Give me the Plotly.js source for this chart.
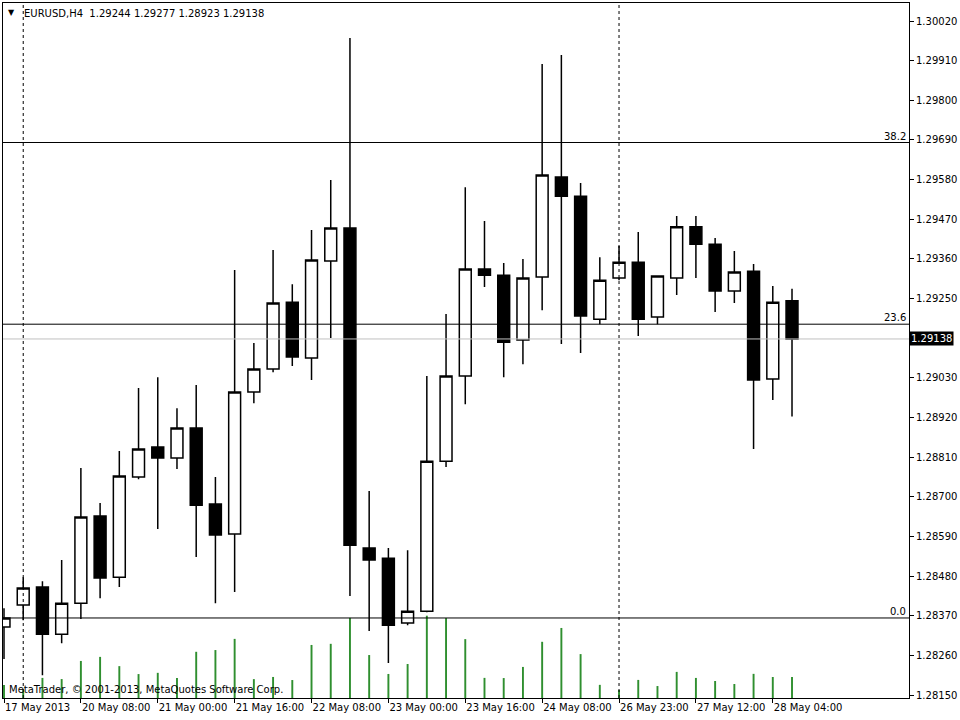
<!DOCTYPE html>
<html>
<head>
<meta charset="utf-8">
<script src="https://cdn.plot.ly/plotly-3.0.1.min.js"></script>
<style>
html,body{margin:0;padding:0;background:#fff;}
#chart{width:960px;height:720px;}
</style>
</head>
<body>
<div id="chart"></div>
<script>
// ---- data (EURUSD, H4) ----
var barTimes = ["17 May 20:00","19 May 23:00","20 May 00:00","20 May 04:00","20 May 08:00","20 May 12:00","20 May 16:00","20 May 20:00",
  "21 May 00:00","21 May 04:00","21 May 08:00","21 May 12:00","21 May 16:00","21 May 20:00",
  "22 May 00:00","22 May 04:00","22 May 08:00","22 May 12:00","22 May 16:00","22 May 20:00",
  "23 May 00:00","23 May 04:00","23 May 08:00","23 May 12:00","23 May 16:00","23 May 20:00",
  "24 May 00:00","24 May 04:00","24 May 08:00","24 May 12:00","24 May 16:00","24 May 20:00",
  "26 May 23:00","27 May 00:00","27 May 04:00","27 May 08:00","27 May 12:00","27 May 16:00","27 May 20:00",
  "28 May 00:00","28 May 04:00","28 May 08:00"];
var openP  = [1.28339,1.28400,1.28450,1.28319,1.28405,1.28647,1.28477,1.28755,1.28838,1.28808,1.28891,1.28680,1.28597,1.28991,1.29055,1.29240,1.29085,1.29354,1.29446,1.28558,1.28530,1.28350,1.28383,1.28799,1.29035,1.29332,1.29315,1.29135,1.29310,1.29587,1.29534,1.29193,1.29307,1.29351,1.29199,1.29307,1.29449,1.29401,1.29271,1.29326,1.29027,1.29244];
var highP  = [1.28391,1.28477,1.28466,1.28525,1.28780,1.28683,1.28827,1.29002,1.29032,1.28946,1.29010,1.28755,1.29329,1.29127,1.29385,1.29290,1.29440,1.29579,1.29973,1.28716,1.28558,1.28552,1.29035,1.29207,1.29559,1.29465,1.29349,1.29360,1.29901,1.29926,1.29571,1.29365,1.29396,1.29435,1.29315,1.29479,1.29479,1.29418,1.29382,1.29346,1.29285,1.29277];
var lowP   = [1.28250,1.28358,1.28205,1.28294,1.28361,1.28419,1.28450,1.28749,1.28611,1.28777,1.28533,1.28405,1.28436,1.28960,1.29046,1.29063,1.29024,1.29141,1.28425,1.28328,1.28239,1.28344,1.28380,1.28783,1.28957,1.29282,1.29032,1.29068,1.29218,1.29124,1.29099,1.29179,1.29301,1.29146,1.29179,1.29260,1.29307,1.29213,1.29238,1.28833,1.28969,1.28923];
var closeP = [1.28364,1.28447,1.28319,1.28405,1.28644,1.28475,1.28758,1.28833,1.28808,1.28891,1.28677,1.28594,1.28991,1.29055,1.29238,1.29088,1.29357,1.29446,1.28566,1.28525,1.28344,1.28383,1.28799,1.29035,1.29332,1.29315,1.29129,1.29307,1.29593,1.29534,1.29202,1.29301,1.29351,1.29193,1.29313,1.29449,1.29401,1.29271,1.29324,1.29024,1.29240,1.29138];
var tickVolume = [1312,806,2010,1893,3705,4112,3187,2394,2516,2003,4620,4795,5912,1887,2104,1796,5305,5418,8010,4296,2405,3398,8230,7995,5887,2012,1994,3107,5620,7004,4390,1315,790,1808,1196,2611,2007,1702,1398,2415,2103,2096];

var timeTickIdx = [0,4,8,12,16,20,24,28,32,36,40];
var timeTickText = ["17 May 2013","20 May 08:00","21 May 00:00","21 May 16:00","22 May 08:00","23 May 00:00","23 May 16:00","24 May 08:00","26 May 23:00","27 May 12:00","28 May 04:00"];

var priceTicks = [1.28150,1.28260,1.28370,1.28480,1.28590,1.28700,1.28810,1.28920,1.29030,1.29250,1.29360,1.29470,1.29580,1.29690,1.29800,1.29910,1.30020];

var fibLevels = ["0.0","23.6","38.2"];
var fibPrices = [1.28364,1.29179,1.29683];

var separatorIdx = [1,32];
var symbolText = "EURUSD,H4";
var lastBid = 1.29138;

// ---- build ----
var idx = barTimes.map(function(_, i){ return i; });

var volTrace = {
  type:'bar', x: idx, y: tickVolume, xaxis:'x', yaxis:'y',
  width: 0.1, marker:{color:'#2f8f2f', line:{width:0}}, hoverinfo:'skip'
};
var candleTrace = {
  type:'candlestick', x: idx, open: openP, high: highP, low: lowP, close: closeP,
  xaxis:'x', yaxis:'y2',
  increasing:{line:{color:'#000', width:1.5}, fillcolor:'#fff'},
  decreasing:{line:{color:'#000', width:1.5}, fillcolor:'#000'},
  whiskerwidth:0, hoverinfo:'skip'
};

var fontF = 'DejaVu Sans, Tahoma, sans-serif';
var shapes = [];
// bid line
shapes.push({type:'line', xref:'paper', x0:0, x1:1, yref:'y2', y0:lastBid, y1:lastBid, line:{color:'#c0c0c0', width:1}});
fibPrices.forEach(function(p){
  shapes.push({type:'line', xref:'paper', x0:0, x1:1, yref:'y2', y0:p, y1:p, line:{color:'#000', width:1}});
});
separatorIdx.forEach(function(i){
  shapes.push({type:'line', xref:'x', x0:i, x1:i, yref:'paper', y0:0, y1:1, line:{color:'#000', width:1, dash:'3px,3px'}});
});

var annotations = [];
fibLevels.forEach(function(t, k){
  annotations.push({xref:'paper', x:1, xanchor:'right', xshift:-1, yref:'y2', y:fibPrices[k], yanchor:'bottom', yshift:-1,
    text:t, showarrow:false, font:{family:fontF, size:10, color:'#000'}});
});
annotations.push({xref:'paper', x:1, xanchor:'left', xshift:0, yref:'y2', y:lastBid, yanchor:'middle',
  text:lastBid.toFixed(5), showarrow:false, bgcolor:'#000', borderpad:1, font:{family:fontF, size:10, color:'#fff'}});
annotations.push({xref:'paper', x:(11-3)/906, xanchor:'center', yref:'paper', y:(698-12)/695, yanchor:'middle',
  text:'▼', showarrow:false, font:{family:fontF, size:8, color:'#000'}});
annotations.push({xref:'paper', x:(22-3)/906, xanchor:'left', yref:'paper', y:(698-13)/695, yanchor:'middle',
  text: symbolText + '\u00a0\u00a0' + [openP[41],highP[41],lowP[41],closeP[41]].map(function(v){return v.toFixed(5);}).join(' '),
  showarrow:false, font:{family:fontF, size:10, color:'#000'}});
annotations.push({xref:'paper', x:(7-3)/906, xanchor:'left', yref:'paper', y:(698-689)/695, yanchor:'middle',
  text:'MetaTrader, © 2001-2013, MetaQuotes Software Corp.', showarrow:false, font:{family:fontF, size:10, color:'#000'}});

var layout = {
  width:960, height:720,
  margin:{l:3, r:51, t:3, b:22, pad:0},
  paper_bgcolor:'#fff', plot_bgcolor:'#fff',
  showlegend:false, hovermode:false,
  boxgap:0.38, boxgroupgap:0,
  xaxis:{
    range:[-0.052, 47.087], showgrid:false, zeroline:false,
    showline:true, mirror:true, linecolor:'#000', linewidth:1,
    ticks:'outside', ticklen:4, tickcolor:'#000',
    tickvals: timeTickIdx, ticktext: timeTickText,
    tickangle:0, ticklabelposition:'outside right', ticklabelstandoff:0,
    tickfont:{family:fontF, size:10, color:'#000'},
    rangeslider:{visible:false}, fixedrange:true
  },
  yaxis:{ range:[0, 69500], visible:false, fixedrange:true },
  yaxis2:{
    overlaying:'y', side:'right', range:[1.28142, 1.30070],
    showgrid:false, zeroline:false, showline:true, mirror:true, linecolor:'#000', linewidth:1,
    ticks:'outside', ticklen:4, tickcolor:'#000',
    tickvals: priceTicks, ticktext: priceTicks.map(function(v){return v.toFixed(5);}),
    tickfont:{family:fontF, size:10, color:'#000'}, fixedrange:true
  },
  shapes: shapes,
  annotations: annotations
};

Plotly.newPlot('chart', [volTrace, candleTrace], layout, {staticPlot:true, displayModeBar:false});
</script>
</body>
</html>
